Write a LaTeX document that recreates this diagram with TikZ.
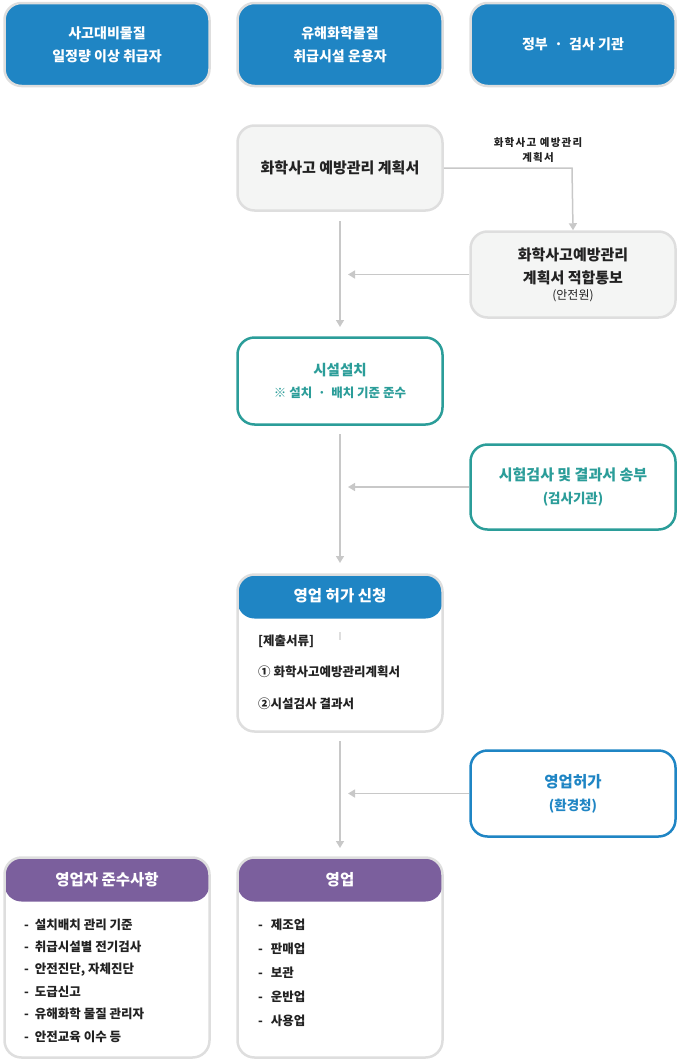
\documentclass[tikz,border=0pt]{standalone}
\usepackage{fontspec}
\setmainfont{Noto Sans CJK KR}
\newfontfamily\lsfont[LetterSpace=12]{Noto Sans CJK KR}
\usetikzlibrary{arrows.meta}
\definecolor{cblue}{HTML}{1F85C4}
\definecolor{cteal}{HTML}{2B9D99}
\definecolor{cpurple}{HTML}{7B5F9D}
\definecolor{cgray}{HTML}{DEDEDE}
\definecolor{cfill}{HTML}{F4F5F4}
\definecolor{cline}{HTML}{C8C8C8}
\definecolor{ctext}{HTML}{222222}
\begin{document}
\begin{tikzpicture}[x=1pt,y=-1pt,
  box/.style={rounded corners=17pt, line width=2.5pt, minimum width=205pt, inner sep=0pt, align=center},
  topbox/.style={box, draw=cgray, fill=cblue, minimum height=83pt, text=white, font=\fontsize{14}{23}\selectfont\bfseries},
  graybox/.style={box, draw=cgray, fill=cfill, text=ctext, font=\fontsize{15}{23}\selectfont\bfseries},
  tealbox/.style={box, draw=cteal, fill=white, minimum height=86pt, text=cteal},
  bluebox/.style={box, draw=cblue, fill=white, minimum height=86pt, text=cblue},
  hdrbox/.style={box, draw=cgray, fill=white, path picture={\fill[#1] ([yshift=2pt]path picture bounding box.north west) rectangle ([yshift=-44pt]path picture bounding box.north east);}},
  hdrtext/.style={text=white, font=\fontsize{15.5}{18}\selectfont\bfseries},
  item/.style={anchor=west, text=ctext, font=\fontsize{12.5}{15}\selectfont\bfseries, inner sep=0pt},
  conn/.style={draw=cline, line width=1.5pt},
  arr/.style={conn, -{Triangle[length=7pt,width=8pt]}}
]
\useasboundingbox (0,0) rectangle (680,1063);

% top row
\node[topbox] (t1) at (107,44.5) {사고대비물질\\일정량 이상 취급자};
\node[topbox] (t2) at (340,44.5) {유해화학물질\\취급시설 운용자};
\node[topbox] (t3) at (573,44.5) {정부\ \ ·\ \ 검사 기관};

% plan
\node[graybox, minimum height=85pt] (a) at (340,168) {화학사고 예방관리 계획서};
\node[graybox, minimum height=86pt] (b) at (573,274.5) {화학사고예방관리\\계획서 적합통보\\[-7pt]{\fontsize{12}{14}\selectfont\mdseries (안전원)}};
\coordinate (ac) at (572,168);
\draw[arr] (a.east) -- (ac) -- (b.north);
\node[text=ctext, font=\lsfont\fontsize{10.5}{15}\selectfont\bfseries, align=center] (lab) at (538,150.5) {화학사고 예방관리\\계획서};

% installation
\node[tealbox, minimum height=87pt, font=\fontsize{14.5}{22}\selectfont\bfseries] (c) at (340,381) {시설설치\\{\fontsize{12.5}{14}\selectfont ※ 설치\ \ ·\ \ 배치 기준 준수}};
\node[tealbox, minimum height=85pt, font=\fontsize{15}{23}\selectfont\bfseries] (d) at (573,487) {시험검사 및 결과서 송부\\{\fontsize{13.5}{15}\selectfont (검사기관)}};

% application
\node[hdrbox=cblue, minimum height=157pt] (e) at (340,653) {};
\node[hdrtext] (eh) at (340,596) {영업 허가 신청};
\node[item] (e1) at (258,641) {[제출서류]};
\node[item] (e2) at (258,672) {① 화학사고예방관리계획서};
\node[item] (e3) at (258,704) {②시설검사 결과서};
\coordinate (tk1) at (340,632);
\coordinate (tk2) at (340,640);
\draw[draw=cgray, line width=1.5pt] (tk1) -- (tk2);

\node[bluebox, minimum height=86pt, font=\fontsize{15.5}{23}\selectfont\bfseries] (f) at (573,793.5) {영업허가\\{\fontsize{13.5}{15}\selectfont (환경청)}};

% bottom
\node[hdrbox=cpurple, minimum height=200pt] (g) at (107,957.5) {};
\node[hdrtext] (gh) at (107,880) {영업자 준수사항};
\node[item] (g1) at (24,924.5) {-\hspace{6pt}설치배치 관리 기준};
\node[item] (g2) at (24,947) {-\hspace{6pt}취급시설별 전기검사};
\node[item] (g3) at (24,969.5) {-\hspace{6pt}안전진단, 자체진단};
\node[item] (g4) at (24,992) {-\hspace{6pt}도급신고};
\node[item] (g5) at (24,1014) {-\hspace{6pt}유해화학 물질 관리자};
\node[item] (g6) at (24,1036.5) {-\hspace{6pt}안전교육 이수 등};

\node[hdrbox=cpurple, minimum height=200pt] (h) at (340,957.5) {};
\node[hdrtext] (hh) at (340,880) {영업};
\node[item] (h1) at (258,924.5) {-\hspace{8pt}제조업};
\node[item] (h2) at (258,948.5) {-\hspace{8pt}판매업};
\node[item] (h3) at (258,972.5) {-\hspace{8pt}보관};
\node[item] (h4) at (258,996.5) {-\hspace{8pt}운반업};
\node[item] (h5) at (258,1020.5) {-\hspace{8pt}사용업};

% main flow
\coordinate (m1) at (340,221);
\coordinate (m2) at (340,327);
\coordinate (m3) at (340,434);
\coordinate (m4) at (340,563);
\coordinate (m5) at (340,741);
\coordinate (m6) at (340,848);
\draw[arr] (m1) -- (m2);
\draw[arr] (m3) -- (m4);
\draw[arr] (m5) -- (m6);
\coordinate (s1) at (348,274.5);
\coordinate (s2) at (348,487);
\coordinate (s3) at (348,793.5);
\draw[arr] (b.west) -- (s1);
\draw[arr] (d.west) -- (s2);
\draw[arr] (f.west) -- (s3);
\end{tikzpicture}
\end{document}
